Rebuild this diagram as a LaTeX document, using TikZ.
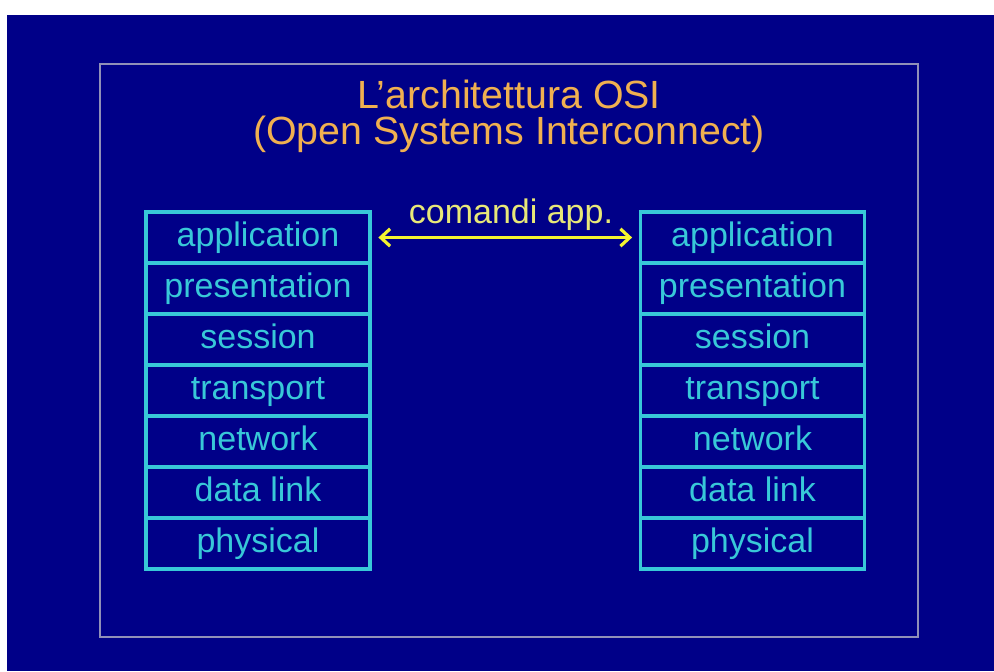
\documentclass[tikz,border=0pt]{standalone}
\usepackage{fontspec}
\setmainfont{Liberation Sans}
\usetikzlibrary{arrows.meta}
\definecolor{navybg}{HTML}{000088}
\definecolor{framegray}{HTML}{9090B8}
\definecolor{layercyan}{HTML}{38C8D8}
\definecolor{titleorange}{HTML}{F0B050}
\definecolor{arrowyellow}{HTML}{F4F430}
\definecolor{labelyellow}{HTML}{E8E878}
\tikzset{
  layer/.style={draw=layercyan, line width=2.6pt, text=layercyan,
    minimum width=168pt, minimum height=38.25pt, inner sep=0pt,
    font=\fontsize{25.5}{28}\selectfont, text height=18.5pt, text depth=4.5pt},
  titletext/.style={text=titleorange, anchor=base, inner sep=0pt,
    font=\fontsize{29.5}{32}\selectfont},
  link/.style={draw=arrowyellow, line width=2.4pt,
    {Straight Barb[length=7pt,width=13pt,line width=2.4pt]}-{Straight Barb[length=7pt,width=13pt,line width=2.4pt]}}
}
\begin{document}
\begin{tikzpicture}[x=0.75pt,y=-0.75pt]
  % page, slide background and frame
  \useasboundingbox (0,0) rectangle (994,671);
  \fill[white] (0,0) rectangle (994,671);
  \fill[navybg] (7,15) rectangle (994,671);
  \draw[framegray, line width=2pt] (100,64) rectangle (918,637);

  % title
  \node[titletext] (t1) at (509,108) {L’architettura OSI};
  \node[titletext] (t2) at (509,144) {(Open Systems Interconnect)};

  % the two protocol stacks
  \foreach \side/\cx in {l/258, r/752.5}{
    \foreach \name [count=\i from 0] in {application,presentation,session,transport,network,data link,physical}{
      \node[layer] (\side\i) at (\cx,{237.5+51*\i}) {\name};
    }
  }

  % peer link between the application layers
  \draw[link, shorten <=5pt, shorten >=5pt] (l0.east) -- (r0.west);
  \node[text=labelyellow, anchor=base, inner sep=0pt,
        font=\fontsize{25.5}{28}\selectfont] (lbl) at (511,223) {comandi app.};
\end{tikzpicture}
\end{document}
